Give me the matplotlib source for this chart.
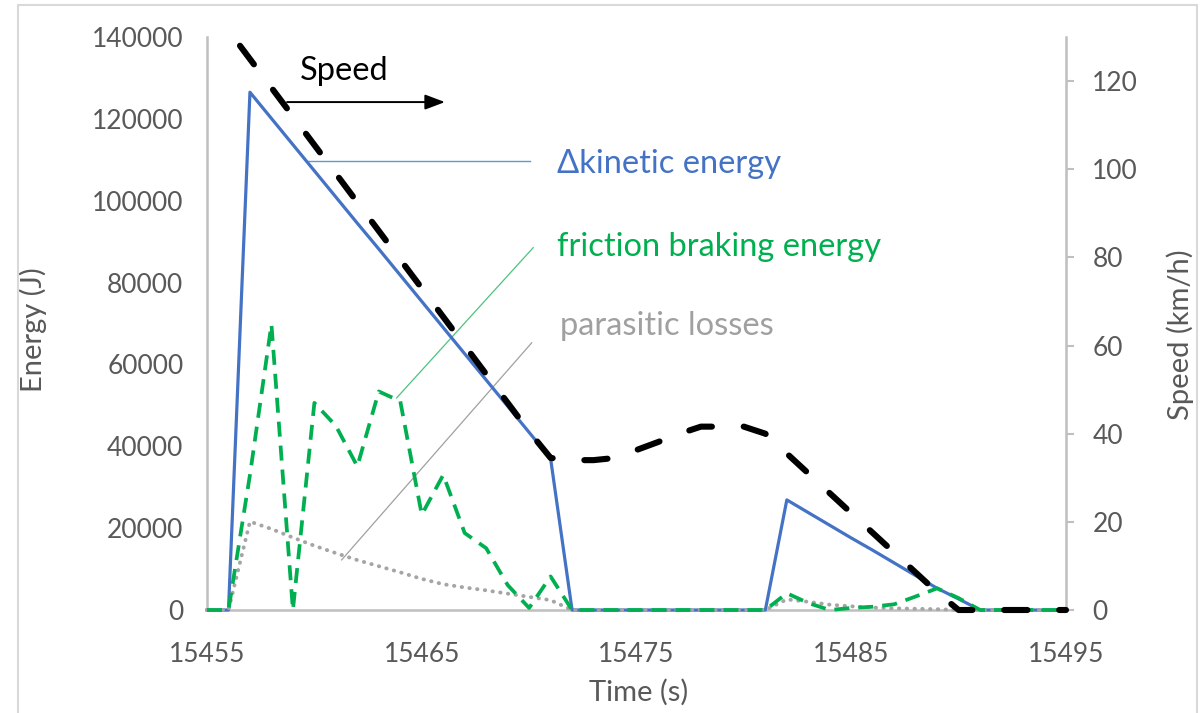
import numpy as np
import matplotlib.pyplot as plt
from matplotlib.patches import Rectangle

plt.rcParams['font.family'] = ['Lato', 'DejaVu Sans']

# time axis, one point per second
time_s = np.arange(15455, 15496)

# energy series (J), primary axis
kinetic = [0, 0, 126500, 120100, 113700, 107300, 100900, 94500, 88200, 81800,
           75400, 69000, 62600, 56200, 49800, 43400, 37000, 0, 0, 0,
           0, 0, 0, 0, 0, 0, 0, 26900, 23800, 20700,
           17600, 14600, 11500, 8400, 5300, 2700, 0, 0, 0, 0, 0]
friction = [0, 0, 33000, 69800, 0, 50600, 45000, 35100, 53400, 51000,
            23300, 33000, 18800, 15100, 6100, 500, 8200, 0, 0, 0,
            0, 0, 0, 0, 0, 0, 0, 4100, 1700, 0,
            500, 800, 1400, 3300, 5300, 2900, 0, 0, 0, 0, 0]
parasitic = [0, 0, 21600, 19800, 17700, 15700, 13900, 12200, 10700, 9200,
             7600, 6300, 5500, 4800, 4000, 3200, 2400, 0, 0, 0,
             0, 0, 0, 0, 0, 0, 0, 2600, 2000, 1300,
             900, 600, 400, 300, 200, 0, 0, 0, 0, 0, 0]

# vehicle speed (km/h), secondary axis
speed = [138, 131.5, 125, 118.5, 112, 105.5, 99, 92.5, 86, 79.5,
         73, 66.5, 60, 53.5, 47, 40.5, 34.5, 34, 34, 34.5,
         36.3, 38.1, 40, 41.6, 41.6, 41.6, 40, 35.5, 31, 26.5,
         22, 17.5, 13, 8.5, 4, 0, 0, 0, 0, 0, 0]

x_ticks = [15455, 15465, 15475, 15485, 15495]
energy_ticks = list(range(0, 140001, 20000))
speed_ticks = list(range(0, 121, 20))

blue = '#4472C4'
green = '#00B050'
grey = '#A5A5A5'
axis_grey = '#BFBFBF'
text_grey = '#595959'

fig = plt.figure(figsize=(12.01, 7.13), dpi=100)
W, H = 1201, 713
ax = fig.add_axes([207 / W, (H - 610) / H, (1066 - 207) / W, (610 - 37) / H])
ax2 = ax.twinx()

# outer chart border
fig.patches.append(Rectangle((18 / W, -0.02), (1197 - 18) / W, (H - 5) / H + 0.02,
                             transform=fig.transFigure, fill=False,
                             edgecolor='#D9D9D9', lw=1.5))

ax.plot(time_s, kinetic, color=blue, lw=2.3, clip_on=False, zorder=3)
ax.plot(time_s, parasitic, color=grey, lw=2.8, linestyle=(0, (0.1, 1.9)),
        dash_capstyle='round', clip_on=False, zorder=3)
ax.plot(time_s, friction, color=green, lw=2.7, linestyle=(0, (4.0, 2.4)),
        clip_on=False, zorder=4)

sp, = ax2.plot(time_s, speed, color='black', lw=4.4, linestyle=(0, (3.8, 5.2)),
               dash_capstyle='round', zorder=3)
sp.set_clip_path(Rectangle((-0.01, -0.05), 1.02, 1.05, transform=ax2.transAxes))

ax.set_xlim(15455, 15495)
ax.set_ylim(0, 140000)
ax2.set_ylim(0, 130)
ax.set_xticks(x_ticks)
ax.set_yticks(energy_ticks)
ax2.set_yticks(speed_ticks)

for s in ['top', 'right']:
    ax.spines[s].set_visible(False)
for s in ['top', 'left', 'bottom']:
    ax2.spines[s].set_visible(False)
for s in ['left', 'bottom']:
    ax.spines[s].set_color(axis_grey)
    ax.spines[s].set_linewidth(1.8)
ax2.spines['right'].set_color(axis_grey)
ax2.spines['right'].set_linewidth(1.8)

ax.tick_params(axis='y', length=0, pad=17, labelsize=19, labelcolor=text_grey)
ax.tick_params(axis='x', length=0, pad=23, labelsize=19, labelcolor=text_grey)
ax2.tick_params(axis='y', length=6, width=1.5, color=axis_grey, pad=13,
                labelsize=19, labelcolor=text_grey)

ax.set_xlabel('Time (s)', fontsize=21, color=text_grey)
ax.xaxis.label.set_va('center')
ax.xaxis.set_label_coords(0.502, -0.143)
ax.set_ylabel('Energy (J)', fontsize=21, color=text_grey)
ax.yaxis.label.set_va('center')
ax.yaxis.set_label_coords(-0.2026, 0.49)
ax2.set_ylabel('Speed (km/h)', fontsize=21, color=text_grey, rotation=90)
ax2.yaxis.label.set_va('center')
ax2.yaxis.set_label_coords(1.1327, 0.48)

# annotations
ax.text(15459.33, 131700, 'Speed', fontsize=23.5, color='black', va='center', ha='left')
ax.annotate('', xy=(15466.08, 124100), xytext=(15458.73, 124100),
            arrowprops=dict(arrowstyle='-|>,head_length=0.45,head_width=0.17',
                            color='black', lw=1.4, mutation_scale=27,
                            shrinkA=0, shrinkB=0))

ax.plot([15459.70, 15470.04], [109650, 109650], color='#5B9BD5', lw=1.0, zorder=2)
ax.text(15471.30, 108900, '\u0394kinetic energy', fontsize=23.5, color=blue,
        va='center', ha='left')

ax.plot([15463.83, 15470.19], [51820, 88530], color='#4CC47C', lw=0.9, zorder=2)
ax.text(15471.30, 88600, 'friction braking energy', fontsize=23.5, color=green,
        va='center', ha='left')

ax.plot([15461.27, 15470.12], [12240, 65280], color='#A0A0A0', lw=0.9, zorder=2)
ax.text(15471.44, 69300, 'parasitic losses', fontsize=23.5, color='#A0A0A0',
        va='center', ha='left')

fig.savefig('out.png', dpi=100)
